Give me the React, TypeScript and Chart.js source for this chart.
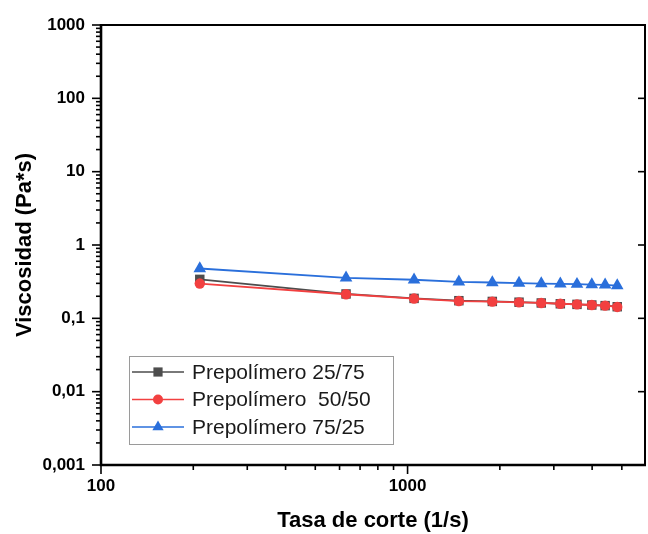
import React, { useEffect, useRef } from 'react';
import { Chart, registerables } from 'chart.js';

Chart.register(...registerables);

// ---- data ----
const shearRate = [210, 630, 1050, 1470, 1890, 2310, 2730, 3150, 3570, 3990, 4410, 4830];
const visc2575 = [0.34, 0.215, 0.187, 0.174, 0.17, 0.166, 0.162, 0.158, 0.155, 0.152, 0.149, 0.144];
const visc5050 = [0.298, 0.213, 0.186, 0.172, 0.169, 0.165, 0.162, 0.158, 0.155, 0.152, 0.149, 0.143];
const visc7525 = [0.478, 0.356, 0.336, 0.314, 0.308, 0.302, 0.298, 0.295, 0.292, 0.289, 0.286, 0.28];
const seriesLabels = ['Prepolímero 25/75', 'Prepolímero  50/50', 'Prepolímero 75/25'];
const seriesColors = ['#4d4d4d', '#f24040', '#2a6fdb'];
const seriesMarkers = ['rect', 'circle', 'triangle'];
const xTickValues = [100, 1000];
const xTickLabels = ['100', '1000'];
const yTickValues = [0.001, 0.01, 0.1, 1, 10, 100, 1000];
const yTickLabels = ['0,001', '0,01', '0,1', '1', '10', '100', '1000'];
const xTitle = 'Tasa de corte (1/s)';
const yTitle = 'Viscosidad (Pa*s)';

const FONT = '"Liberation Sans", Arial, sans-serif';

const sameLog = (a: number, b: number) => Math.abs(Math.log10(a) - Math.log10(b)) < 1e-6;

function drawMarker(ctx: CanvasRenderingContext2D, style: string, x: number, y: number, r: number) {
  ctx.beginPath();
  if (style === 'rect') {
    const s = r * Math.SQRT1_2;
    ctx.rect(x - s, y - s, 2 * s, 2 * s);
  } else if (style === 'circle') {
    ctx.arc(x, y, r, 0, Math.PI * 2);
  } else {
    const h = (r * Math.sqrt(3)) / 2;
    ctx.moveTo(x, y - r);
    ctx.lineTo(x + h, y + r / 2);
    ctx.lineTo(x - h, y + r / 2);
    ctx.closePath();
  }
  ctx.fill();
}

const frameTicks = {
  id: 'frameTicks',
  afterDraw(chart: any) {
    const { ctx, chartArea: a, scales } = chart;
    const xs = scales.x;
    const ys = scales.y;
    ctx.save();
    ctx.strokeStyle = '#000';
    ctx.lineWidth = 1.6;
    const sig = (v: number) => {
      const e = Math.floor(Math.log10(v) + 1e-9);
      return v / Math.pow(10, e);
    };
    for (const t of xs.ticks) {
      const s = sig(t.value);
      if (Math.abs(s - Math.round(s)) > 1e-6) continue;
      const px = xs.getPixelForValue(t.value);
      if (px < a.left - 0.5 || px > a.right + 0.5) continue;
      const major = Math.round(s) === 1 || Math.round(s) === 10;
      ctx.beginPath();
      ctx.moveTo(px, a.bottom);
      ctx.lineTo(px, a.bottom + (major ? 9 : 5));
      ctx.stroke();
    }
    for (const t of ys.ticks) {
      const s = sig(t.value);
      if (Math.abs(s - Math.round(s)) > 1e-6) continue;
      const py = ys.getPixelForValue(t.value);
      if (py < a.top - 0.5 || py > a.bottom + 0.5) continue;
      const major = Math.round(s) === 1 || Math.round(s) === 10;
      ctx.beginPath();
      ctx.moveTo(a.left, py);
      ctx.lineTo(a.left - (major ? 9 : 5), py);
      ctx.stroke();
      if (major) {
        ctx.beginPath();
        ctx.moveTo(a.right, py);
        ctx.lineTo(a.right - 7, py);
        ctx.stroke();
      }
    }
    // frame
    ctx.lineWidth = 2;
    ctx.beginPath();
    ctx.moveTo(a.left, a.top);
    ctx.lineTo(a.right, a.top);
    ctx.lineTo(a.right, a.bottom);
    ctx.stroke();
    ctx.lineWidth = 2.6;
    ctx.beginPath();
    ctx.moveTo(a.left, a.top - 1);
    ctx.lineTo(a.left, a.bottom);
    ctx.lineTo(a.right + 1, a.bottom);
    ctx.stroke();
    ctx.restore();
  },
};

const innerLegend = {
  id: 'innerLegend',
  afterDraw(chart: any) {
    const { ctx, chartArea: a } = chart;
    const bx = a.left + 28;
    const by = a.top + 331;
    const bw = 264;
    const bh = 88;
    ctx.save();
    ctx.fillStyle = '#fff';
    ctx.fillRect(bx, by, bw, bh);
    ctx.strokeStyle = '#9a9a9a';
    ctx.lineWidth = 1;
    ctx.strokeRect(bx + 0.5, by + 0.5, bw, bh);
    ctx.font = '21px ' + FONT;
    ctx.textBaseline = 'middle';
    ctx.textAlign = 'left';
    chart.data.datasets.forEach((ds: any, i: number) => {
      const cy = by + 16 + i * 27.5;
      ctx.strokeStyle = ds.borderColor;
      ctx.lineWidth = 1.5;
      ctx.beginPath();
      ctx.moveTo(bx + 3, cy);
      ctx.lineTo(bx + 55, cy);
      ctx.stroke();
      ctx.fillStyle = ds.pointBackgroundColor;
      drawMarker(ctx, ds.pointStyle, bx + 29, cy, ds.pointStyle === 'circle' ? 5 : 6.5);
      ctx.fillStyle = '#1a1a1a';
      ctx.fillText(ds.label, bx + 63, cy + 1);
    });
    ctx.restore();
  },
};

export default function App() {
  const ref = useRef<HTMLCanvasElement | null>(null);

  useEffect(() => {
    document.body.style.margin = '0';
    const canvas = ref.current;
    if (!canvas) return;
    const seriesValues = [visc2575, visc5050, visc7525];
    const chart = new Chart(canvas, {
      type: 'line',
      data: {
        datasets: seriesValues.map((vals, i) => ({
          label: seriesLabels[i],
          data: shearRate.map((x, j) => ({ x, y: vals[j] })),
          order: 3 - i,
          borderColor: seriesColors[i],
          backgroundColor: seriesColors[i],
          pointBackgroundColor: seriesColors[i],
          pointBorderColor: seriesColors[i],
          pointStyle: seriesMarkers[i],
          pointRadius: seriesMarkers[i] === 'circle' ? 5.2 : seriesMarkers[i] === 'rect' ? 6.7 : 7.3,
          pointBorderWidth: 0,
          borderWidth: 1.8,
          tension: 0,
          fill: false,
        })),
      },
      options: {
        responsive: false,
        animation: false,
        events: [],
        layout: { autoPadding: false, padding: { top: 25, right: 3, left: 0, bottom: 0 } },
        plugins: { legend: { display: false }, tooltip: { enabled: false } },
        scales: {
          x: {
            type: 'logarithmic',
            position: 'bottom',
            min: 100,
            max: 5950,
            grid: { display: false, drawTicks: false },
            border: { display: false },
            afterFit: (s: any) => {
              s.height = 69;
              s.paddingLeft = 0;
              s.paddingRight = 0;
            },
            ticks: {
              autoSkip: false,
              maxRotation: 0,
              padding: 11,
              color: '#000',
              font: { family: FONT, size: 17, weight: 'bold' },
              callback: (v: any) => {
                const i = xTickValues.findIndex((t) => sameLog(t, Number(v)));
                return i >= 0 ? xTickLabels[i] : '';
              },
            },
            title: {
              display: true,
              text: xTitle,
              color: '#000',
              font: { family: FONT, size: 22, weight: 'bold' },
              padding: { top: 0, bottom: 0 },
            },
          },
          y: {
            type: 'logarithmic',
            position: 'left',
            min: 0.001,
            max: 1000,
            grid: { display: false, drawTicks: false },
            border: { display: false },
            afterFit: (s: any) => {
              s.width = 101;
              s.paddingTop = 0;
              s.paddingBottom = 0;
            },
            ticks: {
              autoSkip: false,
              padding: 16,
              color: '#000',
              font: { family: FONT, size: 17, weight: 'bold' },
              callback: (v: any) => {
                const i = yTickValues.findIndex((t) => sameLog(t, Number(v)));
                return i >= 0 ? yTickLabels[i] : '';
              },
            },
            title: {
              display: true,
              text: yTitle,
              color: '#000',
              font: { family: FONT, size: 22, weight: 'bold' },
              padding: { top: 12, bottom: 0 },
            },
          },
        },
      } as any,
      plugins: [frameTicks, innerLegend],
    });
    return () => chart.destroy();
  }, []);

  return (
    <div style={{ width: 648, height: 534, background: '#fff' }}>
      <canvas ref={ref} width={648} height={534} />
    </div>
  );
}
